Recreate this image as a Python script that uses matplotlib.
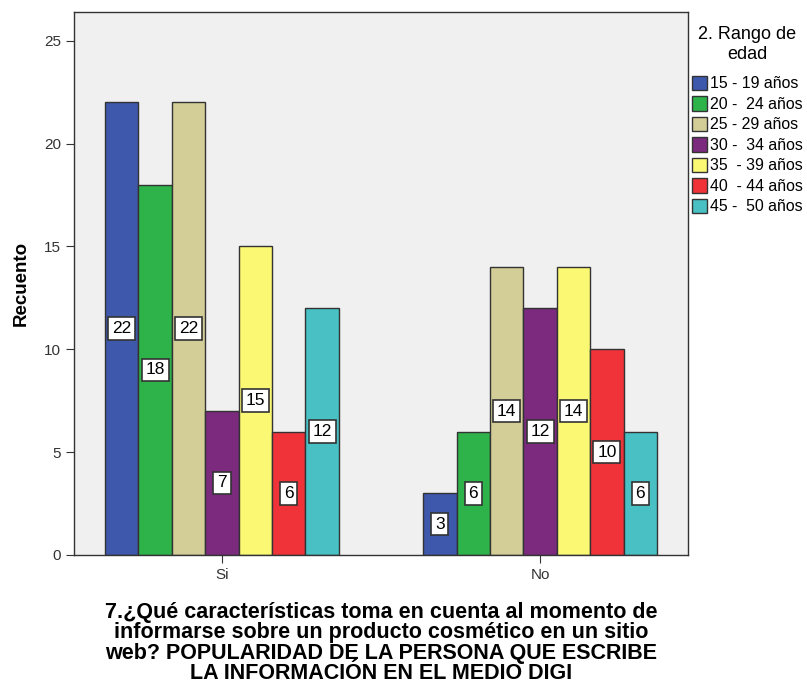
import matplotlib
matplotlib.use("Agg")
import matplotlib.pyplot as plt
import numpy as np

plt.rcParams['font.family'] = ['Liberation Sans', 'DejaVu Sans']

categories = ["Si", "No"]
age_groups = ["15 - 19 años", "20 -  24 años", "25 - 29 años", "30 -  34 años",
              "35  - 39 años", "40  - 44 años", "45 -  50 años"]
counts_si = [22, 18, 22, 7, 15, 6, 12]
counts_no = [3, 6, 14, 12, 14, 10, 6]
colors = ["#3E58AC", "#2DB34A", "#D3CE97", "#7B2A7E", "#FBF873", "#EF3339", "#48C0C4"]

fig = plt.figure(figsize=(8.07, 6.85), dpi=100)
ax = fig.add_axes([0.0917, 0.1898, 0.7608, 0.7927])
ax.set_facecolor("#F0F0F0")

x = np.arange(len(categories))
width = 0.105
n = len(age_groups)
for i, (grp, col) in enumerate(zip(age_groups, colors)):
    vals = [counts_si[i], counts_no[i]]
    pos = x + (i - (n - 1) / 2) * width
    ax.bar(pos, vals, width, color=col, edgecolor="#333333", linewidth=1.0, label=grp)
    for p, v in zip(pos, vals):
        ax.text(p, v / 2, str(v), ha="center", va="center", fontsize=12.5,
                bbox=dict(boxstyle="square,pad=0.22", facecolor="white",
                          edgecolor="#333333", linewidth=1.2))

ax.set_xlim(-0.465, 1.465)
ax.set_ylim(0, 26.4)
ax.set_yticks([0, 5, 10, 15, 20, 25])
ax.set_xticks(x)
ax.set_xticklabels(categories)
ax.tick_params(axis="both", labelsize=11, labelcolor="#333333", color="#333333",
               direction="out", length=6)
for s in ax.spines.values():
    s.set_color("#333333")
    s.set_linewidth(1.0)

ax.set_ylabel("Recuento", fontsize=13.5, fontweight="bold", labelpad=10)
ax.set_xlabel("7.¿Qué características toma en cuenta al momento de\n"
              "informarse sobre un producto cosmético en un sitio\n"
              "web? POPULARIDAD DE LA PERSONA QUE ESCRIBE\n"
              "LA INFORMACIÓN EN EL MEDIO DIGI",
              fontsize=15.5, fontweight="bold", linespacing=0.97, labelpad=14)

leg = ax.legend(title="2. Rango de\nedad", loc="upper left",
                bbox_to_anchor=(0.996, 0.985), frameon=False, fontsize=11.4,
                title_fontsize=13, handlelength=0.95, handleheight=1.05,
                handletextpad=0.2, labelspacing=0.3, borderaxespad=0.2,
                borderpad=0.2)
leg.get_title().set_multialignment("center")
leg._legend_box.sep = 9
for h in leg.legend_handles:
    h.set_edgecolor("#333333")

fig.savefig("out.png", dpi=100, facecolor="white")
